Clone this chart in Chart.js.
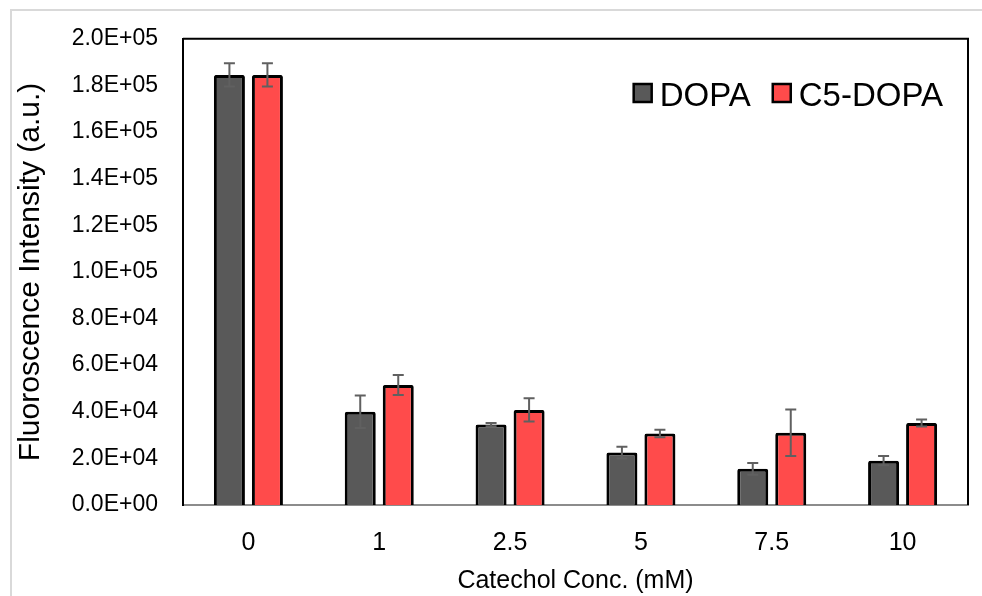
<!DOCTYPE html>
<html>
<head>
<meta charset="utf-8">
<script src="https://cdn.jsdelivr.net/npm/chart.js@4.4.1/dist/chart.umd.min.js"></script>
<style>
    html, body { margin: 0; padding: 0; background: #fff; }
    #wrap { position: relative; width: 982px; height: 596px; overflow: hidden; }
    #frameLeft { position: absolute; left: 10px; top: 9px; width: 2px; height: 587px; background: #d9d9d9; }
    #frameTop { position: absolute; left: 10px; top: 9px; width: 972px; height: 2px; background: #d9d9d9; }
    canvas { position: absolute; left: 0; top: 0; }
</style>
</head>
<body>
<div id="wrap">
    <div id="frameLeft"></div>
    <div id="frameTop"></div>
    <canvas id="fluoChart" width="982" height="596"></canvas>
</div>
<script>
const concLabels = ["0", "1", "2.5", "5", "7.5", "10"];
const dopaValues = [184500, 40000, 34500, 22500, 15500, 19000];
const dopaErrors = [5000, 7000, 700, 2500, 2500, 2000];
const c5DopaValues = [184500, 51500, 40800, 30700, 31000, 35200];
const c5DopaErrors = [5000, 4300, 5000, 1600, 10000, 1500];
const yTicks = [0, 20000, 40000, 60000, 80000, 100000, 120000, 140000, 160000, 180000, 200000];

const FONT = '"Liberation Sans", Arial, sans-serif';

// 2.0E+05 style labels
function sciLabel(v) {
    if (v === 0) return "0.0E+00";
    const exp = Math.floor(Math.log10(Math.abs(v)));
    const mant = v / Math.pow(10, exp);
    return mant.toFixed(1) + "E" + (exp >= 0 ? "+" : "-") + String(Math.abs(exp)).padStart(2, "0");
}

const errorBarPlugin = {
    id: "errorBars",
    afterDatasetsDraw(chart) {
        const ctx = chart.ctx;
        const yScale = chart.scales.y;
        const errs = [dopaErrors, c5DopaErrors];
        ctx.save();
        ctx.strokeStyle = "#606060";
        ctx.lineWidth = 2;
        chart.data.datasets.forEach((ds, di) => {
            const meta = chart.getDatasetMeta(di);
            meta.data.forEach((bar, i) => {
                const v = ds.data[i];
                const e = errs[di][i];
                const yTop = yScale.getPixelForValue(v + e);
                const yBot = yScale.getPixelForValue(v - e);
                const x = bar.x;
                ctx.beginPath();
                ctx.moveTo(x, yTop);
                ctx.lineTo(x, yBot);
                ctx.moveTo(x - 5.5, yTop);
                ctx.lineTo(x + 5.5, yTop);
                ctx.moveTo(x - 5.5, yBot);
                ctx.lineTo(x + 5.5, yBot);
                ctx.stroke();
            });
        });
        ctx.restore();
    }
};

const frameLegendPlugin = {
    id: "frameLegend",
    afterDraw(chart) {
        const ctx = chart.ctx;
        const a = chart.chartArea;
        ctx.save();
        // top and right border of plot
        ctx.strokeStyle = "#000";
        ctx.lineWidth = 2;
        ctx.beginPath();
        ctx.moveTo(a.left, a.top);
        ctx.lineTo(a.right, a.top);
        ctx.lineTo(a.right, a.bottom);
        ctx.stroke();

        // legend in upper right
        ctx.font = "33px " + FONT;
        ctx.textBaseline = "alphabetic";
        ctx.fillStyle = "#000";
        const baseY = 106;
        const boxSize = 18;
        let x = a.right - 25;
        const items = chart.data.datasets.slice().reverse();
        items.forEach((ds) => {
            const w = ctx.measureText(ds.label).width;
            x -= w;
            ctx.fillStyle = "#000";
            ctx.fillText(ds.label, x, baseY);
            x -= 8 + boxSize;
            ctx.fillStyle = ds.backgroundColor;
            ctx.fillRect(x, 84, boxSize, boxSize);
            ctx.strokeStyle = "#000";
            ctx.lineWidth = 2.5;
            ctx.strokeRect(x, 84, boxSize, boxSize);
            x -= 22;
        });
        ctx.restore();
    }
};

new Chart(document.getElementById("fluoChart"), {
    type: "bar",
    data: {
        labels: concLabels,
        datasets: [
            {
                label: "DOPA",
                data: dopaValues,
                backgroundColor: "#595959",
                borderColor: "#000",
                borderWidth: 3,
                borderRadius: 2,
                categoryPercentage: 0.581,
                barPercentage: 0.816
            },
            {
                label: "C5-DOPA",
                data: c5DopaValues,
                backgroundColor: "#ff4b4b",
                borderColor: "#000",
                borderWidth: 3,
                borderRadius: 2,
                categoryPercentage: 0.581,
                barPercentage: 0.816
            }
        ]
    },
    options: {
        responsive: false,
        animation: false,
        devicePixelRatio: 1,
        layout: { padding: { left: 9, top: 37, right: 14, bottom: 0 } },
        plugins: {
            legend: { display: false },
            tooltip: { enabled: false }
        },
        scales: {
            x: {
                grid: { display: false, drawTicks: false },
                border: { display: true, color: "#8c8c8c", width: 2 },
                ticks: { color: "#000", font: { family: FONT, size: 25 }, padding: 23 },
                title: {
                    display: true,
                    text: "Catechol Conc. (mM)",
                    color: "#000",
                    font: { family: FONT, size: 25 },
                    padding: { top: 0, bottom: 0 }
                },
                afterFit(scale) { scale.height = 91; }
            },
            y: {
                min: 0,
                max: 200000,
                afterBuildTicks(scale) { scale.ticks = yTicks.map(v => ({ value: v })); },
                grid: { display: false, drawTicks: false },
                border: { display: true, color: "#000", width: 2 },
                ticks: {
                    color: "#000",
                    font: { family: FONT, size: 23 },
                    padding: 25,
                    callback: (v) => sciLabel(v)
                },
                title: {
                    display: true,
                    text: "Fluoroscence Intensity (a.u.)",
                    color: "#000",
                    font: { family: FONT, size: 30 },
                    padding: { top: 4, bottom: 0 }
                },
                afterFit(scale) { scale.width = 174; }
            }
        }
    },
    plugins: [errorBarPlugin, frameLegendPlugin]
});
</script>
</body>
</html>
